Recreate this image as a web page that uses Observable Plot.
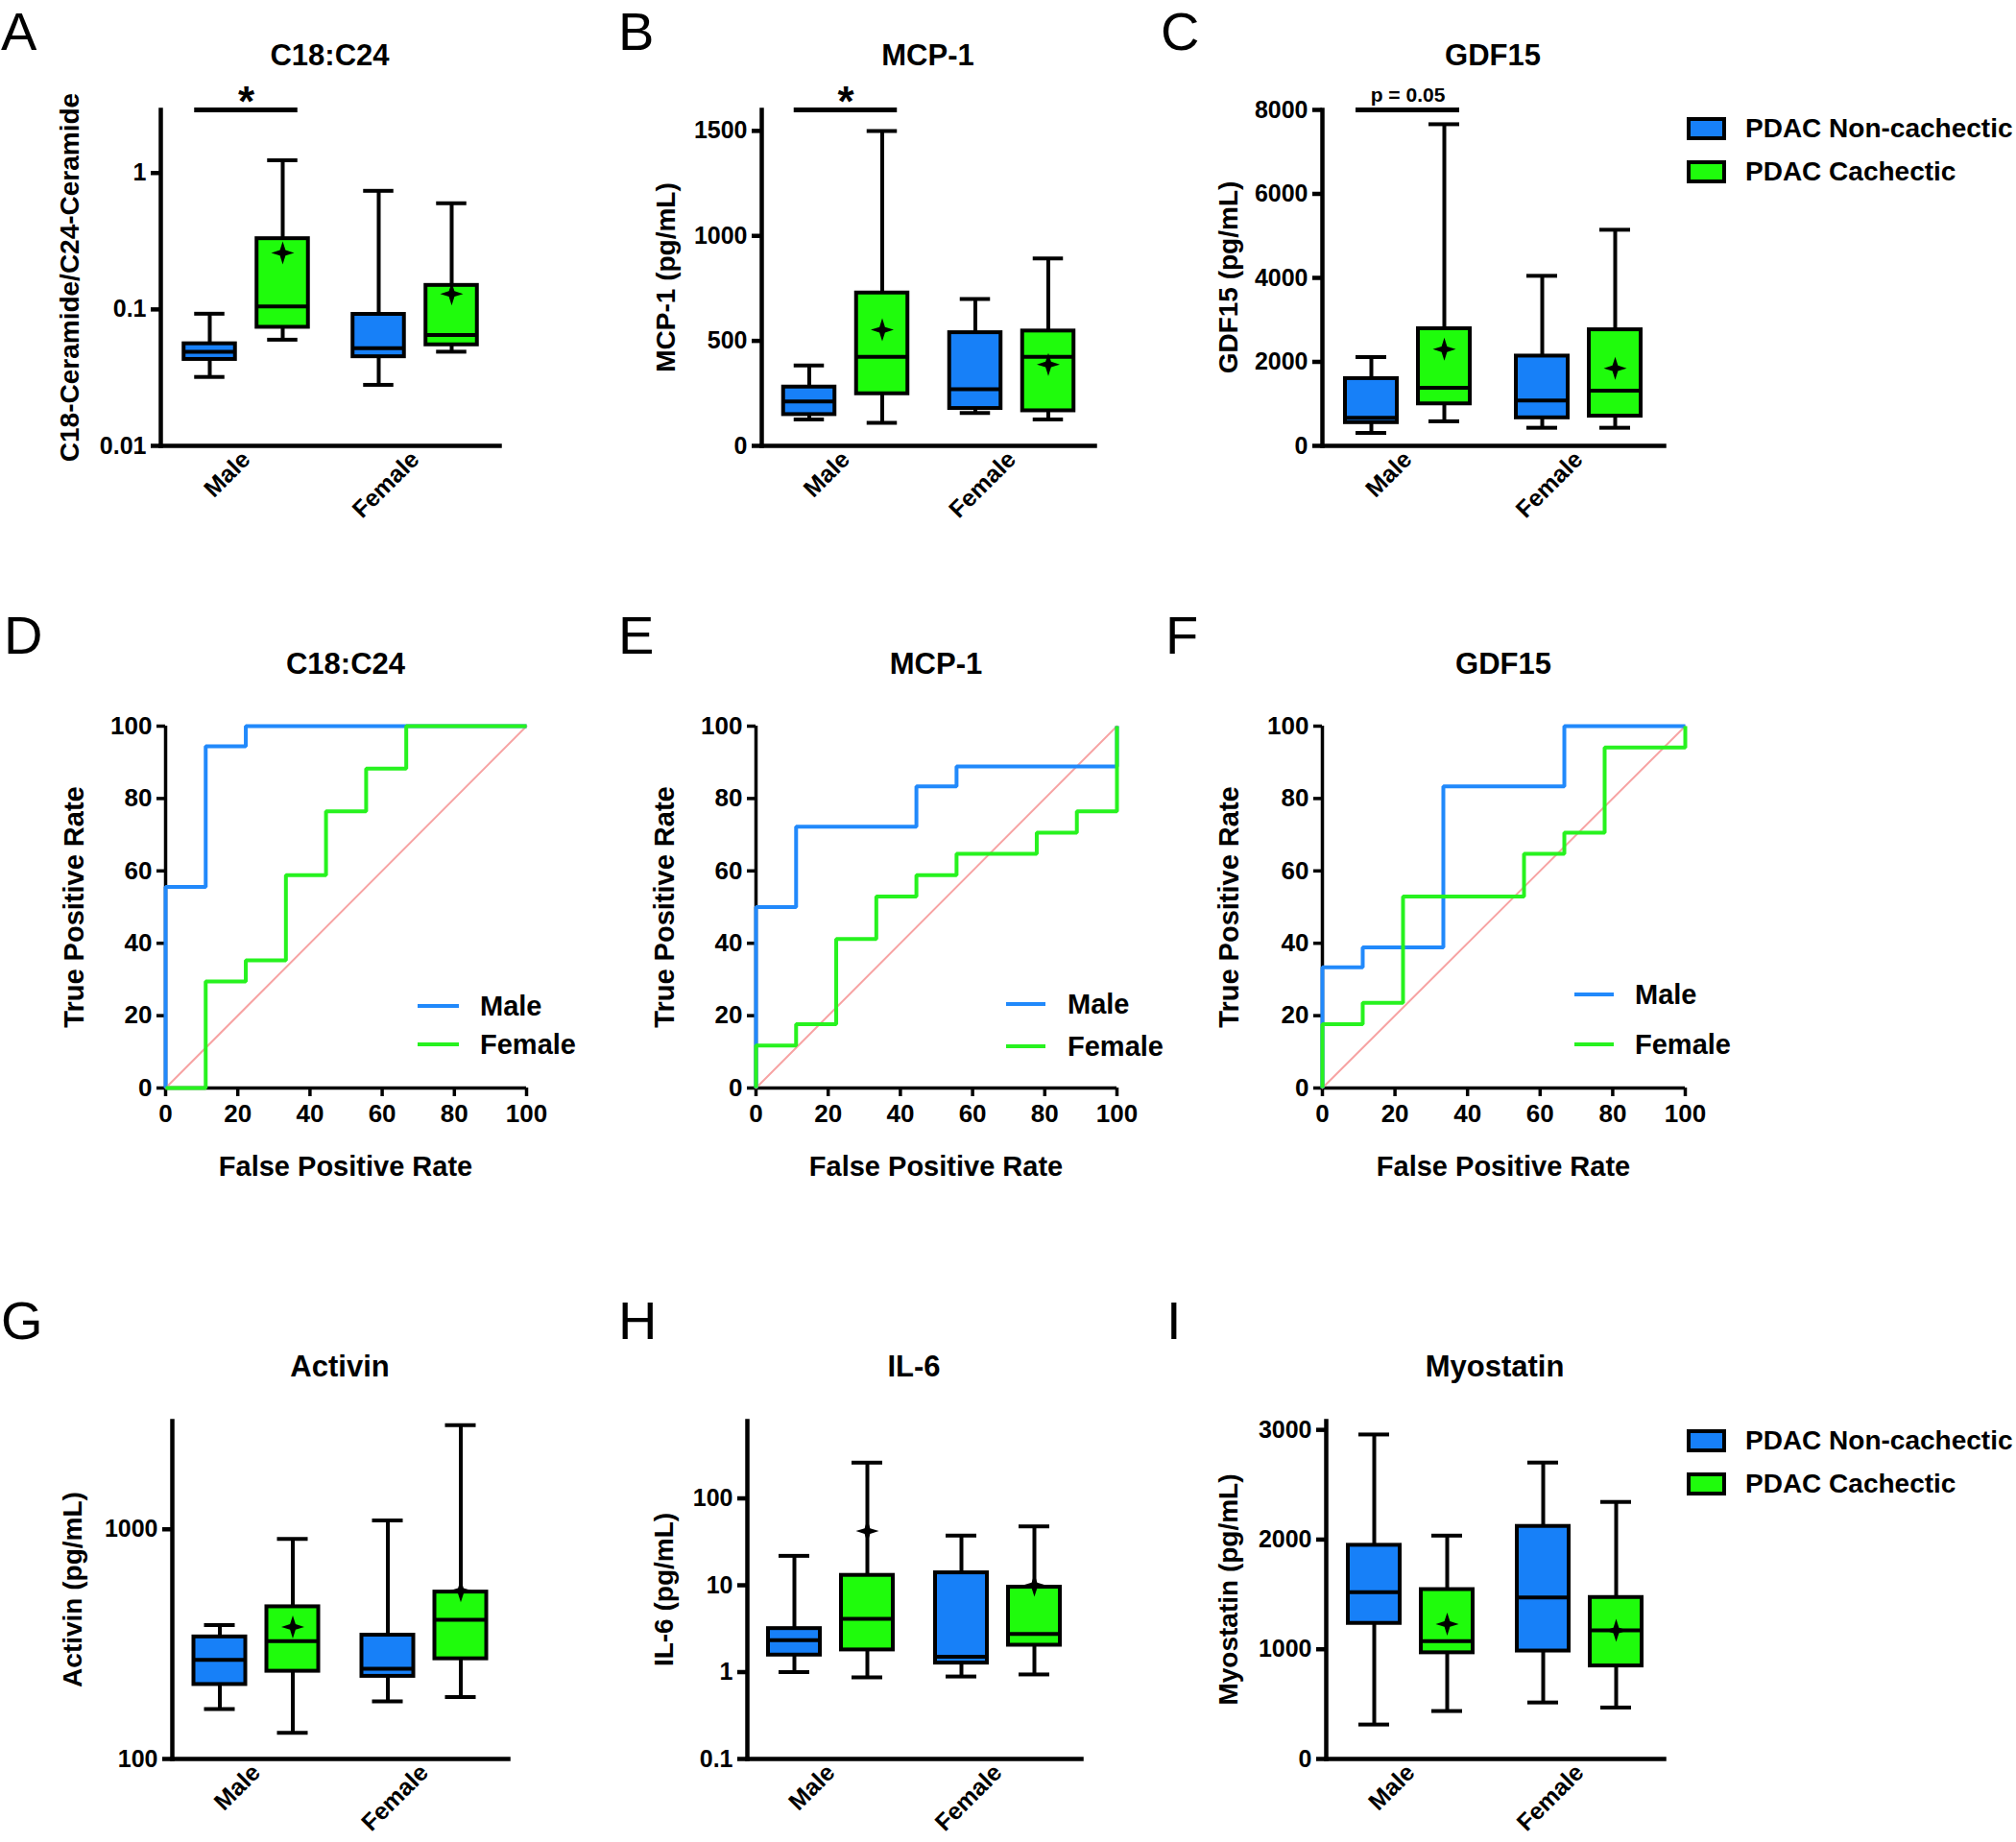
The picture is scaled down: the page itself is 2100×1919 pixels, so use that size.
<!DOCTYPE html>
<html>
<head>
<meta charset="utf-8">
<script src="https://cdn.jsdelivr.net/npm/d3@7"></script>
<script src="https://cdn.jsdelivr.net/npm/@observablehq/plot@0.6"></script>
<style>
html, body { margin: 0; padding: 0; background: #fff; }
#page { position: relative; width: 2100px; height: 1919px; overflow: hidden; background: #fff; color: #000; }
.t { position: absolute; white-space: nowrap; font-family: "Liberation Sans", Arial, sans-serif; font-weight: bold; line-height: 1; color: #000; }
.c { transform: translate(-50%, -50%); }
.v { transform: translate(-50%, -50%) rotate(-90deg); }
.l { transform: translate(0, -50%); }
.letter { position: absolute; font-family: "Liberation Sans", Arial, sans-serif; font-weight: 400; font-size: 56px; line-height: normal; color: #000; }
.plotbox { position: absolute; }
.plotbox svg { overflow: visible; max-width: none; }
</style>
</head>
<body>
<div id="page"></div>
<script>
// ---------------- DATA ----------------
const sexes = ["Male", "Female"];
const groups = ["PDAC Non-cachectic", "PDAC Cachectic"];
const boxColors = ["#1780f8", "#1ffc0c"];
const rocColors = ["#2189fb", "#27f21f"];

// Order in every box array: [Male Non-cachectic, Male Cachectic, Female Non-cachectic, Female Cachectic]
// A: C18:C24 ratio
const c18Min  = [0.032, 0.060, 0.028, 0.049];
const c18Q1   = [0.043, 0.074, 0.045, 0.055];
const c18Med  = [0.049, 0.105, 0.052, 0.065];
const c18Q3   = [0.056, 0.33, 0.092, 0.15];
const c18Max  = [0.093, 1.24, 0.74, 0.60];
const c18Mean = [null, 0.26, null, 0.13];
const c18Ticks = [0.01, 0.1, 1];

// B: MCP-1 (pg/mL)
const mcpMin  = [126, 110, 157, 126];
const mcpQ1   = [149, 248, 178, 167];
const mcpMed  = [212, 424, 270, 424];
const mcpQ3   = [280, 728, 539, 547];
const mcpMax  = [383, 1500, 700, 893];
const mcpMean = [null, 553, null, 388];
const mcpTicks = [0, 500, 1000, 1500];

// C: GDF15 (pg/mL)
const gdfMin  = [309, 585, 431, 431];
const gdfQ1   = [553, 1000, 667, 707];
const gdfMed  = [667, 1382, 1081, 1317];
const gdfQ3   = [1602, 2789, 2138, 2764];
const gdfMax  = [2114, 7659, 4049, 5146];
const gdfMean = [null, 2301, null, 1846];
const gdfTicks = [0, 2000, 4000, 6000, 8000];

// G: Activin (pg/mL)
const actMin  = [165, 130, 178, 186];
const actQ1   = [211, 241, 229, 273];
const actMed  = [270, 326, 247, 404];
const actQ3   = [340, 460, 346, 533];
const actMax  = [383, 908, 1093, 2838];
const actMean = [null, 376, null, 540];
const actTicks = [100, 1000];

// H: IL-6 (pg/mL)
const il6Min  = [1.0, 0.87, 0.89, 0.94];
const il6Q1   = [1.57, 1.8, 1.27, 2.04];
const il6Med  = [2.33, 4.1, 1.5, 2.75];
const il6Q3   = [3.17, 13, 13.9, 9.5];
const il6Max  = [21.8, 258, 37.3, 47.6];
const il6Mean = [null, 42, null, 10];
const il6Ticks = [0.1, 1, 10, 100];

// I: Myostatin (pg/mL)
const myoMin  = [314, 437, 515, 469];
const myoQ1   = [1236, 968, 984, 848];
const myoMed  = [1521, 1074, 1472, 1172];
const myoQ3   = [1948, 1544, 2120, 1472];
const myoMax  = [2958, 2036, 2702, 2343];
const myoMean = [null, 1230, null, 1172];
const myoTicks = [0, 1000, 2000, 3000];

// ROC curves (False / True positive rate, %)
const rocTicks = [0, 20, 40, 60, 80, 100];
const diagFpr = [0, 100];
const diagTpr = [0, 100];
// D: C18:C24
const dMaleFpr   = [0, 0, 11.11, 11.11, 22.22, 22.22, 100];
const dMaleTpr   = [0, 55.56, 55.56, 94.44, 94.44, 100, 100];
const dFemaleFpr = [0, 11.11, 11.11, 22.22, 22.22, 33.33, 33.33, 44.44, 44.44, 55.56, 55.56, 66.67, 66.67, 100];
const dFemaleTpr = [0, 0, 29.41, 29.41, 35.29, 35.29, 58.82, 58.82, 76.47, 76.47, 88.24, 88.24, 100, 100];
// E: MCP-1
const eMaleFpr   = [0, 0, 11.11, 11.11, 44.44, 44.44, 55.56, 55.56, 100, 100];
const eMaleTpr   = [0, 50, 50, 72.22, 72.22, 83.33, 83.33, 88.89, 88.89, 100];
const eFemaleFpr = [0, 0, 11.11, 11.11, 22.22, 22.22, 33.33, 33.33, 44.44, 44.44, 55.56, 55.56, 77.78, 77.78, 88.89, 88.89, 100, 100];
const eFemaleTpr = [0, 11.76, 11.76, 17.65, 17.65, 41.18, 41.18, 52.94, 52.94, 58.82, 58.82, 64.71, 64.71, 70.59, 70.59, 76.47, 76.47, 100];
// F: GDF15
const fMaleFpr   = [0, 0, 11.11, 11.11, 33.33, 33.33, 66.67, 66.67, 100];
const fMaleTpr   = [0, 33.33, 33.33, 38.89, 38.89, 83.33, 83.33, 100, 100];
const fFemaleFpr = [0, 0, 11.11, 11.11, 22.22, 22.22, 55.56, 55.56, 66.67, 66.67, 77.78, 77.78, 100, 100];
const fFemaleTpr = [0, 17.65, 17.65, 23.53, 23.53, 52.94, 52.94, 64.71, 64.71, 70.59, 70.59, 94.12, 94.12, 100];

// ---------------- HELPERS ----------------
const page = document.getElementById("page");
const FONT = "'Liberation Sans', Arial, sans-serif";

function addText(text, x, y, size, cls) {
  const d = document.createElement("div");
  d.className = "t " + cls;
  d.textContent = text;
  d.style.left = x + "px";
  d.style.top = y + "px";
  d.style.fontSize = size + "px";
  page.appendChild(d);
  return d;
}
function addLetter(text, x, top) {
  const d = document.createElement("div");
  d.className = "letter";
  d.textContent = text;
  d.style.left = (x - 3) + "px";
  d.style.top = top + "px";
  page.appendChild(d);
}
function placePlot(svg, left, top) {
  const d = document.createElement("div");
  d.className = "plotbox";
  d.style.left = left + "px";
  d.style.top = top + "px";
  d.appendChild(svg);
  page.appendChild(d);
}

// four-pointed mean marker
const star4 = {
  draw(context, size) {
    const R = Math.sqrt(size / Math.PI), r = R * 0.34;
    for (let i = 0; i < 8; i++) {
      const a = i * Math.PI / 4 - Math.PI / 2;
      const rad = i % 2 === 0 ? R : r;
      const x = rad * Math.cos(a), y = rad * Math.sin(a);
      if (i === 0) context.moveTo(x, y); else context.lineTo(x, y);
    }
    context.closePath();
  }
};

function boxRows(min, q1, med, q3, max, mean) {
  const rows = [];
  sexes.forEach((s, si) => groups.forEach((g, gi) => {
    const k = si * groups.length + gi;
    rows.push({sex: s, group: g, min: min[k], q1: q1[k], median: med[k], q3: q3[k], max: max[k], mean: mean[k]});
  }));
  return rows;
}

const BOX_W = 54, CAP_W = 32, OFF = 38, SIG_W = 108, LW = 4, AXW = 4.5;

function boxPanel({frame, rows, yType, yDomain, yTicks, sig}) {
  const mL = 110, mR = 24, mT = 60, mB = 120;
  const W = frame.r - frame.l, H = frame.b - frame.t;
  const bw = W / sexes.length;
  const boxIn = (bw - BOX_W) / 2, capIn = (bw - CAP_W) / 2, sigIn = (bw - SIG_W) / 2;
  const marks = [
    Plot.axisY(yTicks, {tickSize: 10, tickPadding: 5, strokeWidth: AXW, fontSize: 25, tickFormat: d => String(d), label: null}),
    Plot.axisX(sexes, {tickSize: 0, tickPadding: 10, tickRotate: -45, fontSize: 25, label: null}),
    Plot.frame({anchor: "left", strokeWidth: AXW}),
    Plot.frame({anchor: "bottom", strokeWidth: AXW})
  ];
  groups.forEach((g, gi) => {
    const d = rows.filter(r => r.group === g);
    const dx = (gi === 0 ? -1 : 1) * OFF;
    marks.push(
      Plot.ruleX(d, {x: "sex", y1: "min", y2: "q1", dx, stroke: "black", strokeWidth: LW}),
      Plot.ruleX(d, {x: "sex", y1: "q3", y2: "max", dx, stroke: "black", strokeWidth: LW}),
      Plot.tickY(d, {x: "sex", y: "min", dx, insetLeft: capIn, insetRight: capIn, stroke: "black", strokeWidth: LW}),
      Plot.tickY(d, {x: "sex", y: "max", dx, insetLeft: capIn, insetRight: capIn, stroke: "black", strokeWidth: LW}),
      Plot.barY(d, {x: "sex", y1: "q1", y2: "q3", dx, fill: "group", stroke: "black", strokeWidth: LW, insetLeft: boxIn, insetRight: boxIn}),
      Plot.tickY(d, {x: "sex", y: "median", dx, insetLeft: boxIn, insetRight: boxIn, stroke: "black", strokeWidth: LW}),
      Plot.dot(d.filter(r => r.mean != null), {x: "sex", y: "mean", dx, r: 12, symbol: star4, fill: "black", stroke: "none"})
    );
  });
  if (sig) {
    marks.push(
      Plot.tickY([sig], {x: "sex", y: "y", insetLeft: sigIn, insetRight: sigIn, stroke: "black", strokeWidth: 5}),
      Plot.text([sig], {x: "sex", y: "y", text: "label", dy: sig.dy, fontSize: sig.size})
    );
  }
  const svg = Plot.plot({
    width: W + mL + mR, height: H + mT + mB,
    marginLeft: mL, marginRight: mR, marginTop: mT, marginBottom: mB,
    x: {type: "band", domain: sexes, padding: 0},
    y: {type: yType, domain: yDomain},
    color: {domain: groups, range: boxColors},
    style: {fontFamily: FONT, fontWeight: "bold", fontSize: "25px", color: "black", background: "transparent", overflow: "visible"},
    marks
  });
  placePlot(svg, frame.l - mL, frame.t - mT);
}

function rocRows(mFpr, mTpr, fFpr, fTpr) {
  const rows = [];
  mFpr.forEach((x, i) => rows.push({sex: "Male", fpr: x, tpr: mTpr[i]}));
  fFpr.forEach((x, i) => rows.push({sex: "Female", fpr: x, tpr: fTpr[i]}));
  return rows;
}

function rocPanel({frame, rows}) {
  const mL = 90, mR = 40, mT = 20, mB = 60;
  const W = frame.r - frame.l, H = frame.b - frame.t;
  const diag = diagFpr.map((x, i) => ({fpr: x, tpr: diagTpr[i]}));
  const svg = Plot.plot({
    width: W + mL + mR, height: H + mT + mB,
    marginLeft: mL, marginRight: mR, marginTop: mT, marginBottom: mB,
    x: {domain: [0, 100]},
    y: {domain: [0, 100]},
    color: {domain: sexes, range: rocColors},
    style: {fontFamily: FONT, fontWeight: "bold", fontSize: "26px", color: "black", background: "transparent", overflow: "visible"},
    marks: [
      Plot.ruleX([0], {stroke: "black", strokeWidth: 3.5}),
      Plot.ruleY([0], {stroke: "black", strokeWidth: 3.5}),
      Plot.axisX(rocTicks, {tickSize: 9, tickPadding: 8, strokeWidth: 3.5, fontSize: 26, label: null}),
      Plot.axisY(rocTicks, {tickSize: 9, tickPadding: 5, strokeWidth: 3.5, fontSize: 26, label: null}),
      Plot.line(diag, {x: "fpr", y: "tpr", stroke: "#f7a3a3", strokeWidth: 2}),
      Plot.line(rows, {x: "fpr", y: "tpr", z: "sex", stroke: "sex", strokeWidth: 4, strokeLinejoin: "miter", strokeLinecap: "butt"})
    ]
  });
  placePlot(svg, frame.l - mL, frame.t - mT);
}

function boxLegend(x, yCenters) {
  groups.forEach((g, i) => {
    const sw = document.createElement("div");
    sw.style.cssText = `position:absolute;left:${x}px;top:${yCenters[i] - 12}px;width:41px;height:24px;box-sizing:border-box;border:4px solid #000;background:${boxColors[i]};`;
    page.appendChild(sw);
    addText(g, x + 61, yCenters[i], 28, "l");
  });
}
function rocLegend(x1, x2, tx, yCenters) {
  sexes.forEach((s, i) => {
    const ln = document.createElement("div");
    ln.style.cssText = `position:absolute;left:${x1}px;top:${yCenters[i] - 2}px;width:${x2 - x1}px;height:4px;background:${rocColors[i]};`;
    page.appendChild(ln);
    addText(s, tx, yCenters[i], 29, "l");
  });
}

// ---------------- LAYOUT ----------------
const fA = {l: 167, r: 520, t: 114, b: 464};
const fB = {l: 793, r: 1140, t: 114, b: 464};
const fC = {l: 1377, r: 1733, t: 114, b: 464};
const fD = {l: 172, r: 548, t: 756, b: 1133};
const fE = {l: 787, r: 1163, t: 756, b: 1133};
const fF = {l: 1377, r: 1755, t: 756, b: 1133};
const fG = {l: 179, r: 529, t: 1480, b: 1832};
const fH = {l: 778, r: 1126, t: 1480, b: 1832};
const fI = {l: 1381, r: 1733, t: 1480, b: 1832};
const mid = f => (f.l + f.r) / 2;
const midY = f => (f.t + f.b) / 2;

// Row 1
boxPanel({frame: fA, rows: boxRows(c18Min, c18Q1, c18Med, c18Q3, c18Max, c18Mean), yType: "log", yDomain: [0.01, 2.9], yTicks: c18Ticks,
  sig: {sex: "Male", y: 2.9, label: "*", dy: -8, size: 44}});
boxPanel({frame: fB, rows: boxRows(mcpMin, mcpQ1, mcpMed, mcpQ3, mcpMax, mcpMean), yType: "linear", yDomain: [0, 1600], yTicks: mcpTicks,
  sig: {sex: "Male", y: 1600, label: "*", dy: -8, size: 44}});
boxPanel({frame: fC, rows: boxRows(gdfMin, gdfQ1, gdfMed, gdfQ3, gdfMax, gdfMean), yType: "linear", yDomain: [0, 8000], yTicks: gdfTicks,
  sig: {sex: "Male", y: 8000, label: "p = 0.05", dy: -15, size: 21}});

// Row 2
rocPanel({frame: fD, rows: rocRows(dMaleFpr, dMaleTpr, dFemaleFpr, dFemaleTpr)});
rocPanel({frame: fE, rows: rocRows(eMaleFpr, eMaleTpr, eFemaleFpr, eFemaleTpr)});
rocPanel({frame: fF, rows: rocRows(fMaleFpr, fMaleTpr, fFemaleFpr, fFemaleTpr)});

// Row 3
boxPanel({frame: fG, rows: boxRows(actMin, actQ1, actMed, actQ3, actMax, actMean), yType: "log", yDomain: [100, 2960], yTicks: actTicks});
boxPanel({frame: fH, rows: boxRows(il6Min, il6Q1, il6Med, il6Q3, il6Max, il6Mean), yType: "log", yDomain: [0.1, 776], yTicks: il6Ticks});
boxPanel({frame: fI, rows: boxRows(myoMin, myoQ1, myoMed, myoQ3, myoMax, myoMean), yType: "linear", yDomain: [0, 3080], yTicks: myoTicks});

// Panel letters (div top; caps start ~11px lower)
addLetter("A", 4, 0);  addLetter("B", 647, 0);  addLetter("C", 1212, 0);
addLetter("D", 7, 629); addLetter("E", 647, 629); addLetter("F", 1217, 629);
addLetter("G", 4, 1343); addLetter("H", 647, 1343); addLetter("I", 1218, 1343);

// Titles
addText("C18:C24", mid(fA), 57, 31, "c");
addText("MCP-1", mid(fB), 57, 31, "c");
addText("GDF15", mid(fC), 57, 31, "c");
addText("C18:C24", mid(fD), 691, 31, "c");
addText("MCP-1", mid(fE), 691, 31, "c");
addText("GDF15", mid(fF), 691, 31, "c");
addText("Activin", mid(fG), 1423, 31, "c");
addText("IL-6", mid(fH), 1423, 31, "c");
addText("Myostatin", mid(fI), 1423, 31, "c");

// Y axis titles
addText("C18-Ceramide/C24-Ceramide", fA.l - 94, midY(fA), 28, "v");
addText("MCP-1 (pg/mL)", fB.l - 99, midY(fB), 28, "v");
addText("GDF15 (pg/mL)", fC.l - 97, midY(fC), 28, "v");
addText("True Positive Rate", fD.l - 95, midY(fD), 29, "v");
addText("True Positive Rate", fE.l - 95, midY(fE), 29, "v");
addText("True Positive Rate", fF.l - 97, midY(fF), 29, "v");
addText("Activin (pg/mL)", fG.l - 103, midY(fG), 28, "v");
addText("IL-6 (pg/mL)", fH.l - 86, midY(fH), 28, "v");
addText("Myostatin (pg/mL)", fI.l - 101, midY(fI), 28, "v");

// X axis titles (ROC)
addText("False Positive Rate", mid(fD), 1215, 29, "c");
addText("False Positive Rate", mid(fE), 1215, 29, "c");
addText("False Positive Rate", mid(fF), 1215, 29, "c");

// Legends
boxLegend(1757, [134, 179]);
boxLegend(1757, [1501, 1546]);
rocLegend(435, 478, 500, [1048, 1088]);
rocLegend(1048, 1089, 1112, [1046, 1090]);
rocLegend(1640, 1681, 1703, [1036, 1088]);
</script>
</body>
</html>
